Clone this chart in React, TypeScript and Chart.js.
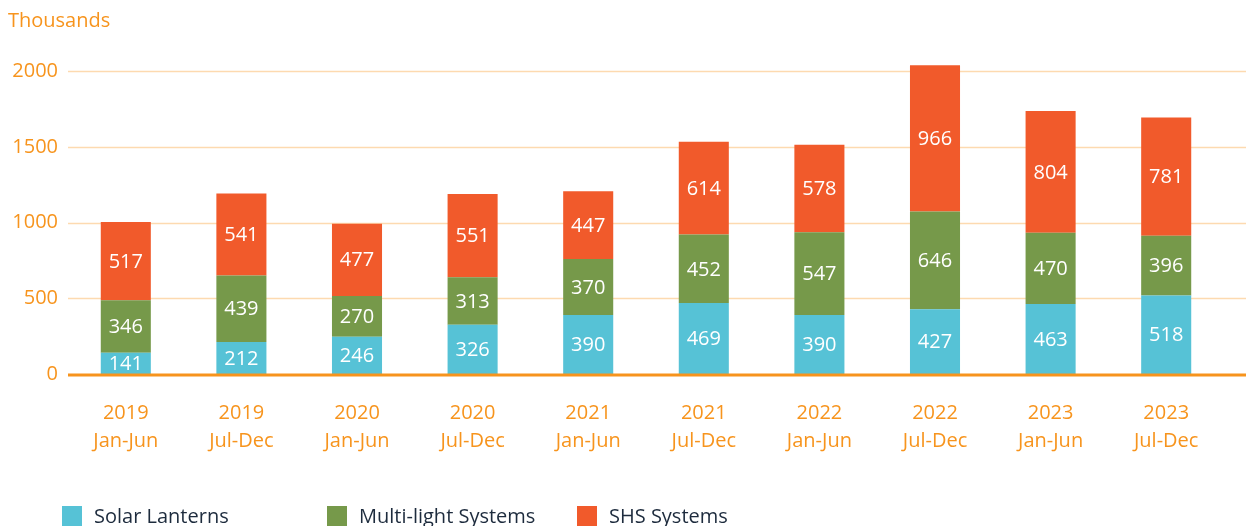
import React, { useEffect, useRef } from "react";
import { Chart, registerables } from "chart.js";

Chart.register(...registerables);

const years = ["2019", "2019", "2020", "2020", "2021", "2021", "2022", "2022", "2023", "2023"];
const halves = ["Jan-Jun", "Jul-Dec", "Jan-Jun", "Jul-Dec", "Jan-Jun", "Jul-Dec", "Jan-Jun", "Jul-Dec", "Jan-Jun", "Jul-Dec"];
const solarLanterns = [141, 212, 246, 326, 390, 469, 390, 427, 463, 518];
const multiLight = [346, 439, 270, 313, 370, 452, 547, 646, 470, 396];
const shsSystems = [517, 541, 477, 551, 447, 614, 578, 966, 804, 781];
const seriesNames = ["Solar Lanterns", "Multi-light Systems", "SHS Systems"];
const yTicks = [0, 500, 1000, 1500, 2000];
const yTitle = "Thousands";

const FONT = "'Open Sans', Lato, sans-serif";
const FS = 20;
const ORANGE = "#F7941D";
const GRID = "#FDDAB0";
const COLORS = ["#56C2D6", "#76994A", "#F15A2B"];
const LEGEND_TEXT = "#1D2B3D";
const LEGEND_X = [62, 327, 577];

const decorPlugin = {
  id: "decor",
  beforeDatasetsDraw(chart: any) {
    const { ctx, chartArea, scales } = chart;
    const y = scales.y;
    ctx.save();
    ctx.strokeStyle = GRID;
    ctx.lineWidth = 1.5;
    yTicks.forEach((v) => {
      if (v === 0) return;
      const py = Math.round(y.getPixelForValue(v)) + 0.5;
      ctx.beginPath();
      ctx.moveTo(chartArea.left, py);
      ctx.lineTo(chart.width, py);
      ctx.stroke();
    });
    ctx.restore();
  },
  afterDatasetsDraw(chart: any) {
    const { ctx, chartArea, scales } = chart;
    ctx.save();
    ctx.fillStyle = "#FFFFFF";
    ctx.font = `${FS}px ${FONT}`;
    ctx.textAlign = "center";
    ctx.textBaseline = "middle";
    chart.data.datasets.forEach((ds: any, di: number) => {
      const meta = chart.getDatasetMeta(di);
      meta.data.forEach((bar: any, i: number) => {
        const cy = (bar.y + bar.base) / 2;
        ctx.fillText(String(ds.data[i]), bar.x, cy + 1);
      });
    });
    const py = scales.y.getPixelForValue(0);
    ctx.strokeStyle = ORANGE;
    ctx.lineWidth = 3;
    ctx.beginPath();
    ctx.moveTo(chartArea.left, py + 1);
    ctx.lineTo(chart.width, py + 1);
    ctx.stroke();
    ctx.restore();
  },
  afterDraw(chart: any) {
    const { ctx } = chart;
    ctx.save();
    ctx.fillStyle = ORANGE;
    ctx.font = `${FS}px ${FONT}`;
    ctx.textAlign = "left";
    ctx.textBaseline = "middle";
    ctx.fillText(yTitle, 8, 21);
    chart.data.datasets.forEach((ds: any, di: number) => {
      const x = LEGEND_X[di];
      ctx.fillStyle = ds.backgroundColor;
      ctx.fillRect(x, 506, 20, 22);
      ctx.fillStyle = LEGEND_TEXT;
      ctx.fillText(ds.label, x + 32, 517);
    });
    ctx.restore();
  },
};

export default function App() {
  const ref = useRef<HTMLCanvasElement>(null);
  useEffect(() => {
    if (!ref.current) return;
    const labels = years.map((y, i) => [y, halves[i]]);
    const chart = new Chart(ref.current, {
      type: "bar",
      data: {
        labels,
        datasets: [
          { label: seriesNames[0], data: solarLanterns, backgroundColor: COLORS[0] },
          { label: seriesNames[1], data: multiLight, backgroundColor: COLORS[1] },
          { label: seriesNames[2], data: shsSystems, backgroundColor: COLORS[2] },
        ],
      },
      options: {
        responsive: false,
        animation: false,
        devicePixelRatio: 1,
        layout: { padding: { top: 41, right: 22, bottom: 52, left: 0 } },
        datasets: { bar: { categoryPercentage: 1, barPercentage: 0.433 } },
        plugins: { legend: { display: false }, tooltip: { enabled: false } },
        scales: {
          x: {
            stacked: true,
            grid: { display: false, drawTicks: false },
            border: { display: false },
            ticks: {
              color: ORANGE,
              font: { family: FONT, size: FS, lineHeight: 1.4 },
              padding: 25,
              maxRotation: 0,
              autoSkip: false,
            },
            afterFit: (s: any) => {
              s.height = 100;
            },
          },
          y: {
            stacked: true,
            min: 0,
            max: 2200,
            grid: { display: false, drawTicks: false },
            border: { display: false },
            ticks: {
              stepSize: 500,
              color: ORANGE,
              font: { family: FONT, size: FS },
              padding: 10,
              callback: (v: any) => String(v),
            },
            afterBuildTicks: (s: any) => {
              s.ticks = yTicks.map((v) => ({ value: v }));
            },
            afterFit: (s: any) => {
              s.width = 68;
            },
          },
        },
      },
      plugins: [decorPlugin],
    });
    return () => chart.destroy();
  }, []);
  return (
    <div style={{ position: "fixed", left: 0, top: 0, width: 1246, height: 526, background: "#fff" }}>
      <canvas ref={ref} width={1246} height={526} style={{ width: 1246, height: 526, display: "block" }} />
    </div>
  );
}
